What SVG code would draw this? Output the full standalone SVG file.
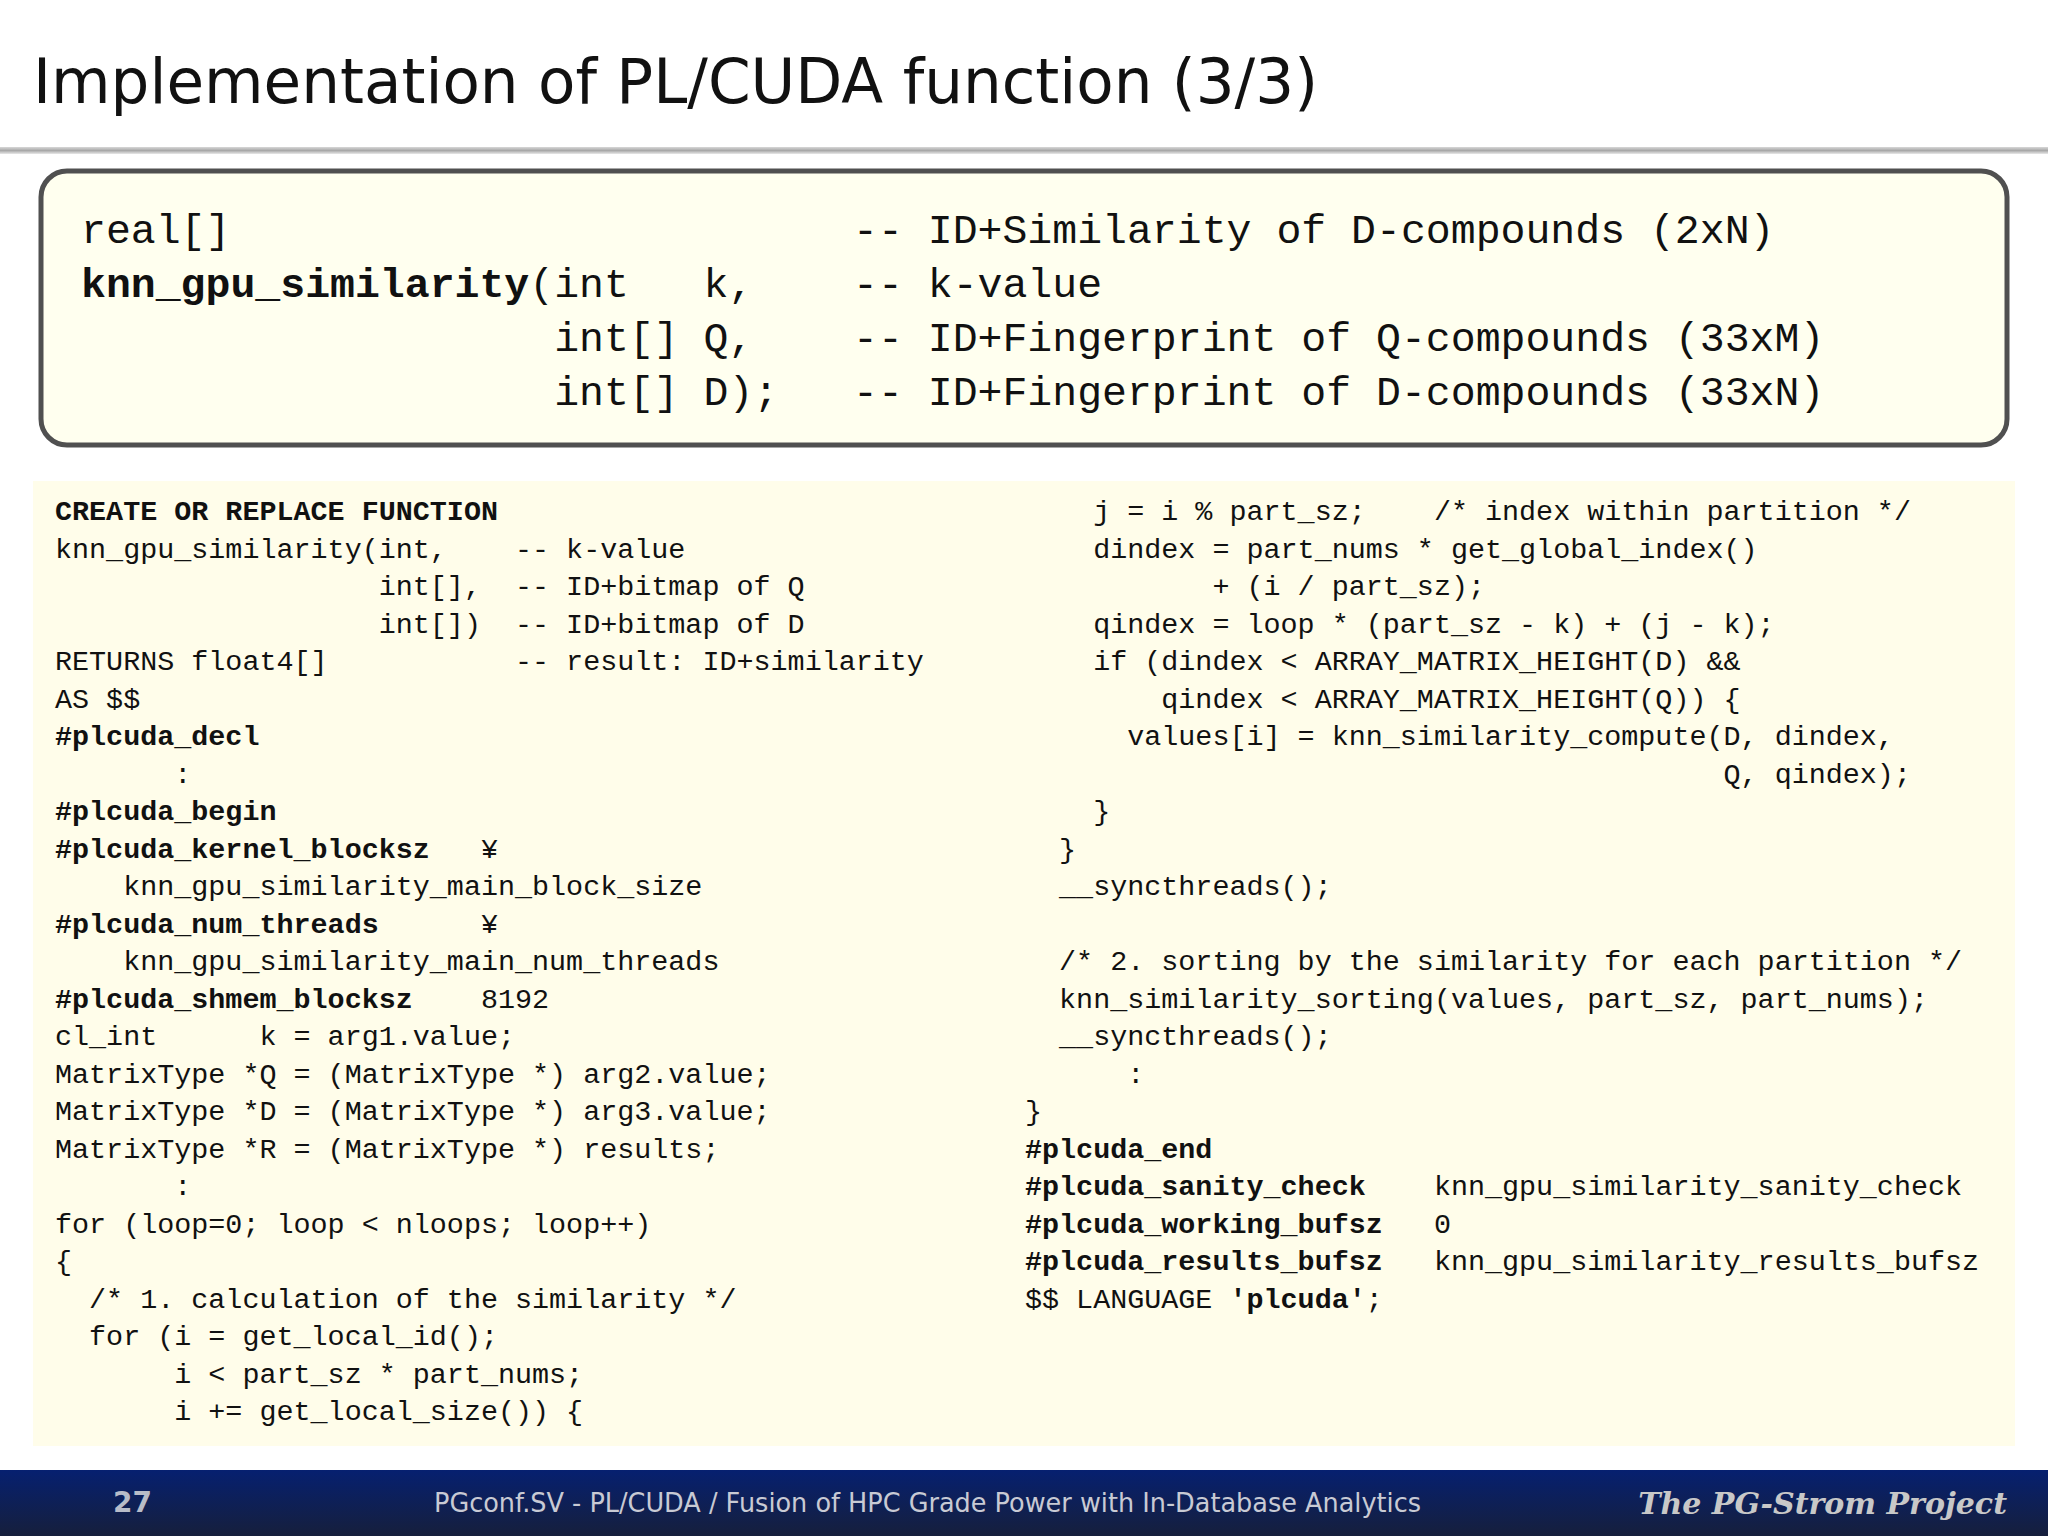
<svg xmlns="http://www.w3.org/2000/svg" width="2048" height="1536" viewBox="0 0 2048 1536">
<defs>
<linearGradient id="foot" x1="0" y1="0" x2="0" y2="1"><stop offset="0" stop-color="#062070"/><stop offset="1" stop-color="#161f3c"/></linearGradient>
<linearGradient id="rule" x1="0" y1="0" x2="0" y2="1"><stop offset="0" stop-color="#d8d8d8"/><stop offset="0.5" stop-color="#a8a8a8"/><stop offset="1" stop-color="#e8e8e8"/></linearGradient>
</defs>
<style>
.m{font-family:"Liberation Mono","DejaVu Sans Mono",monospace;fill:#111;}
.big{font-size:41.5px;}
.code{font-size:28.4px;}
.b{font-weight:bold;}
</style>
<rect width="2048" height="1536" fill="#ffffff"/>
<g id="title"><text x="33" y="103" font-family="DejaVu Sans,Verdana,sans-serif" font-size="62" fill="#111" textLength="1285" lengthAdjust="spacingAndGlyphs">Implementation of PL/CUDA function (3/3)</text>
<rect x="0" y="147" width="2048" height="7" fill="url(#rule)"/></g>
<g id="signature">
<rect x="41" y="171" width="1966" height="274" rx="26" fill="#ffffef" stroke="#505050" stroke-width="5"/>
<text class="m big" xml:space="preserve"><tspan x="81" y="243">real[]                         -- ID+Similarity of D-compounds (2xN)</tspan><tspan x="81" y="297"><tspan class="b">knn_gpu_similarity</tspan>(int   k,    -- k-value</tspan><tspan x="81" y="351">                   int[] Q,    -- ID+Fingerprint of Q-compounds (33xM)</tspan><tspan x="81" y="405">                   int[] D);   -- ID+Fingerprint of D-compounds (33xN)</tspan></text>
</g>
<g id="code">
<rect x="33" y="481" width="1982" height="965" fill="#fffdea"/>
<text class="m code" xml:space="preserve"><tspan x="55" y="520" class="b">CREATE OR REPLACE FUNCTION</tspan><tspan x="55" y="557.5">knn_gpu_similarity(int,    -- k-value</tspan><tspan x="55" y="595">                   int[],  -- ID+bitmap of Q</tspan><tspan x="55" y="632.5">                   int[])  -- ID+bitmap of D</tspan><tspan x="55" y="670">RETURNS float4[]           -- result: ID+similarity</tspan><tspan x="55" y="707.5">AS $$</tspan><tspan x="55" y="745" class="b">#plcuda_decl</tspan><tspan x="55" y="782.5">       :</tspan><tspan x="55" y="820" class="b">#plcuda_begin</tspan><tspan x="55" y="857.5"><tspan class="b">#plcuda_kernel_blocksz</tspan>   ¥</tspan><tspan x="55" y="895">    knn_gpu_similarity_main_block_size</tspan><tspan x="55" y="932.5"><tspan class="b">#plcuda_num_threads</tspan>      ¥</tspan><tspan x="55" y="970">    knn_gpu_similarity_main_num_threads</tspan><tspan x="55" y="1007.5"><tspan class="b">#plcuda_shmem_blocksz</tspan>    8192</tspan><tspan x="55" y="1045">cl_int      k = arg1.value;</tspan><tspan x="55" y="1082.5">MatrixType *Q = (MatrixType *) arg2.value;</tspan><tspan x="55" y="1120">MatrixType *D = (MatrixType *) arg3.value;</tspan><tspan x="55" y="1157.5">MatrixType *R = (MatrixType *) results;</tspan><tspan x="55" y="1195">       :</tspan><tspan x="55" y="1232.5">for (loop=0; loop &lt; nloops; loop++)</tspan><tspan x="55" y="1270">{</tspan><tspan x="55" y="1307.5">  /* 1. calculation of the similarity */</tspan><tspan x="55" y="1345">  for (i = get_local_id();</tspan><tspan x="55" y="1382.5">       i &lt; part_sz * part_nums;</tspan><tspan x="55" y="1420">       i += get_local_size()) {</tspan></text>
<text class="m code" xml:space="preserve"><tspan x="1025" y="520">    j = i % part_sz;    /* index within partition */</tspan><tspan x="1025" y="557.5">    dindex = part_nums * get_global_index()</tspan><tspan x="1025" y="595">           + (i / part_sz);</tspan><tspan x="1025" y="632.5">    qindex = loop * (part_sz - k) + (j - k);</tspan><tspan x="1025" y="670">    if (dindex &lt; ARRAY_MATRIX_HEIGHT(D) &amp;&amp;</tspan><tspan x="1025" y="707.5">        qindex &lt; ARRAY_MATRIX_HEIGHT(Q)) {</tspan><tspan x="1025" y="745">      values[i] = knn_similarity_compute(D, dindex,</tspan><tspan x="1025" y="782.5">                                         Q, qindex);</tspan><tspan x="1025" y="820">    }</tspan><tspan x="1025" y="857.5">  }</tspan><tspan x="1025" y="895">  __syncthreads();</tspan><tspan x="1025" y="970">  /* 2. sorting by the similarity for each partition */</tspan><tspan x="1025" y="1007.5">  knn_similarity_sorting(values, part_sz, part_nums);</tspan><tspan x="1025" y="1045">  __syncthreads();</tspan><tspan x="1025" y="1082.5">      :</tspan><tspan x="1025" y="1120">}</tspan><tspan x="1025" y="1157.5" class="b">#plcuda_end</tspan><tspan x="1025" y="1195"><tspan class="b">#plcuda_sanity_check</tspan>    knn_gpu_similarity_sanity_check</tspan><tspan x="1025" y="1232.5"><tspan class="b">#plcuda_working_bufsz</tspan>   0</tspan><tspan x="1025" y="1270"><tspan class="b">#plcuda_results_bufsz</tspan>   knn_gpu_similarity_results_bufsz</tspan><tspan x="1025" y="1307.5">$$ LANGUAGE <tspan class="b">'plcuda'</tspan>;</tspan></text>
</g>
<g id="footer">
<rect x="0" y="1470" width="2048" height="66" fill="url(#foot)"/>
<text x="113" y="1512" font-family="DejaVu Sans,sans-serif" font-size="28" font-weight="bold" fill="#b8bcc8">27</text>
<text x="434" y="1512" font-family="DejaVu Sans,sans-serif" font-size="27" fill="#c8cad4" textLength="987" lengthAdjust="spacingAndGlyphs">PGconf.SV - PL/CUDA / Fusion of HPC Grade Power with In-Database Analytics</text>
<text x="2007" y="1514" text-anchor="end" font-family="DejaVu Serif,serif" font-style="italic" font-weight="bold" font-size="30" fill="#c8c8c8">The PG-Strom Project</text>
</g>
</svg>
